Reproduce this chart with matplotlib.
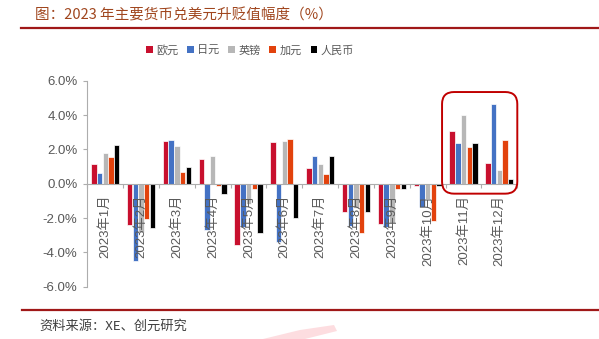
import numpy as np
import matplotlib
matplotlib.use("Agg")
import matplotlib.pyplot as plt
from matplotlib.patches import FancyBboxPatch, Polygon, Patch
from matplotlib.lines import Line2D

plt.rcParams['font.family'] = ['Liberation Sans', 'Noto Sans CJK SC', 'DejaVu Sans']

# Monthly appreciation (+) / depreciation (-) vs USD, %
months = ['2023年1月', '2023年2月', '2023年3月', '2023年4月', '2023年5月', '2023年6月',
          '2023年7月', '2023年8月', '2023年9月', '2023年10月', '2023年11月', '2023年12月']
series_names = ['欧元', '日元', '英镑', '加元', '人民币']
eur = [1.17, -2.41, 2.49, 1.46, -3.55, 2.43, 0.91, -1.64, -2.37, -0.13, 3.09, 1.20]
jpy = [0.64, -4.53, 2.56, -2.67, -2.50, -3.37, 1.63, -2.47, -2.50, -1.38, 2.37, 4.65]
gbp = [1.81, -2.80, 2.21, 1.63, -1.20, 2.49, 1.14, -1.40, -2.30, -0.90, 4.00, 0.77]
cad = [1.53, -2.04, 0.66, -0.16, -0.29, 2.58, 0.58, -2.88, -0.29, -2.18, 2.12, 2.53]
cny = [2.23, -2.59, 0.97, -0.60, -2.87, -2.00, 1.63, -1.62, -0.28, -0.15, 2.37, 0.25]
yticks = [-6, -4, -2, 0, 2, 4, 6]

colors = ['#C8102E', '#4472C4', '#B7B7B7', '#E2420D', '#000000']
all_series = [eur, jpy, gbp, cad, cny]

W, H, DPI = 599, 339, 100
fig = plt.figure(figsize=(W / DPI, H / DPI), dpi=DPI)

# plot area
left_px, right_px = 87.3, 517.3
top_px, bot_px = 80.7, 286.7
ax = fig.add_axes([left_px / W, 1 - bot_px / H, (right_px - left_px) / W, (bot_px - top_px) / H])

x = np.arange(len(months))
step = 0.159
bw = 0.15
for i, (vals, c) in enumerate(zip(all_series, colors)):
    ax.bar(x + (i - 2) * step, vals, width=bw, color=c, edgecolor='white', linewidth=0.5,
           zorder=1)

ax.set_xlim(-0.5, len(months) - 0.5)
ax.set_ylim(-6, 6)
ax.set_yticks(yticks)
ax.set_yticklabels([f'{v:.1f}%' for v in yticks])

axis_col = '#ADADAD'
for s in ['top', 'right']:
    ax.spines[s].set_visible(False)
ax.spines['left'].set_color(axis_col)
ax.spines['bottom'].set_color(axis_col)
ax.spines['bottom'].set_position(('data', 0))
ax.spines['bottom'].set_zorder(4)

ax.tick_params(axis='y', colors=axis_col, labelcolor='#595959', labelsize=9.5, length=3,
               width=0.8, pad=4)
ax.set_xticks(x)
ax.set_xticklabels(months, rotation=90, ha='center', va='top')
ax.set_xticks(np.arange(-0.5, len(months), 1.0), minor=True)
ax.tick_params(axis='x', which='major', length=0, labelsize=9.5, labelcolor='#595959', pad=8)
ax.tick_params(axis='x', which='minor', length=3, width=0.8, color=axis_col)
ax.xaxis.set_zorder(3)

# highlight box around the last two months
fig.canvas.draw()
(x0, y0), (x1, y1) = ax.transData.transform([(9.4, -0.58), (11.5, 5.34)])
r = 12
box = FancyBboxPatch((x0 / DPI + r / DPI, y0 / DPI + r / DPI),
                     (x1 - x0 - 2 * r) / DPI, (y1 - y0 - 2 * r) / DPI,
                     boxstyle=f"round,pad={r / DPI}", transform=fig.dpi_scale_trans,
                     fill=False, edgecolor='#C00000', linewidth=1.4, zorder=10)
fig.patches.append(box)

# title and rule
fig.text(35 / W, 1 - 15 / H, '图：2023 年主要货币兑美元升贬值幅度（%）',
         fontsize=10.5, color='#A0461E', va='center', ha='left',
         family=['Noto Sans CJK SC', 'DejaVu Sans'])
fig.add_artist(Line2D([21 / W, 1.0], [1 - 28.3 / H] * 2, color='#A01818', linewidth=1.6,
                      transform=fig.transFigure))

# legend
handles = [Patch(facecolor=c, edgecolor='none') for c in colors]
fig.legend(handles, series_names, loc='center', bbox_to_anchor=(250 / W, 1 - 50 / H),
           ncol=5, frameon=False, labelcolor='#595959',
           handlelength=0.6, handleheight=0.6, handletextpad=0.3, columnspacing=0.8,
           prop={'family': ['Noto Sans CJK SC'], 'size': 8})

# footer rule and source
fig.add_artist(Line2D([22 / W, 1.0], [1 - 310 / H] * 2, color='#A01818', linewidth=1.6,
                      transform=fig.transFigure))
fig.text(39 / W, 1 - 326 / H, '资料来源：XE、创元研究', fontsize=9.5, color='#404040',
         va='center', ha='left', family=['Noto Sans CJK SC', 'DejaVu Sans'])

# faint logo swoosh at the bottom
sw = np.array([(263, 339), (300, 330), (334, 325), (337, 331), (305, 339)], dtype=float)
sw[:, 0] /= W
sw[:, 1] = 1 - sw[:, 1] / H
fig.add_artist(Polygon(sw, closed=True, facecolor='#FDDDE0', edgecolor='none',
                       transform=fig.transFigure, zorder=0))

fig.savefig('out.png', dpi=DPI)
